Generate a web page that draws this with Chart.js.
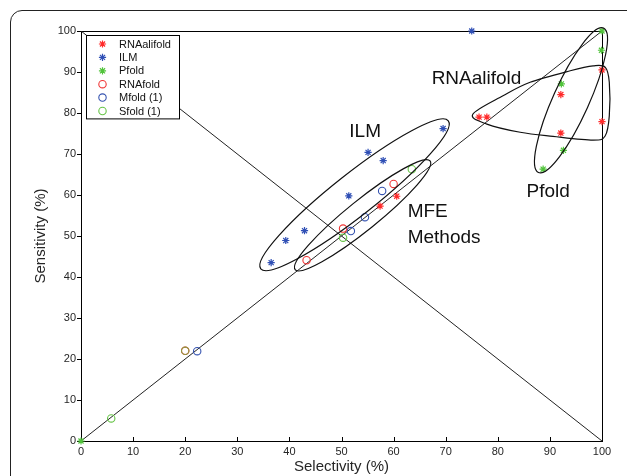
<!DOCTYPE html>
<html>
<head>
<meta charset="utf-8">
<script src="https://cdn.jsdelivr.net/npm/chart.js@4.4.0/dist/chart.umd.min.js"></script>
<style>
  html, body { margin: 0; padding: 0; background: #fff; }
  #wrap { position: relative; width: 627px; height: 476px; overflow: hidden; }
  #frame { position: absolute; left: 10px; top: 10px; width: 660px; height: 520px;
           border: 1.5px solid #222; border-radius: 12px; box-sizing: border-box; }
  #c { position: absolute; left: 0; top: 0; }
</style>
</head>
<body>
<div id="wrap">
  <div id="frame"></div>
  <canvas id="c" width="627" height="476"></canvas>
</div>
<script>
// values (selectivity %, sensitivity %)
const rnaalifoldX = [100, 92.1, 92.1, 76.4, 77.9, 100, 60.6, 57.4];
const rnaalifoldY = [90.5, 84.5, 75.1, 79.0, 79.0, 77.9, 59.7, 57.3];
const ilmX = [75, 69.5, 55.1, 58.0, 51.4, 42.9, 39.3, 36.5];
const ilmY = [100, 76.2, 70.4, 68.4, 59.8, 51.3, 48.9, 43.5];
const pfoldX = [100, 99.9, 92.2, 92.6, 88.7, 0];
const pfoldY = [100, 95.3, 87.1, 70.9, 66.3, 0];
const rnafoldX = [60.0, 50.3, 43.3, 20.0];
const rnafoldY = [62.7, 51.8, 44.1, 22.0];
const mfoldX = [57.8, 54.5, 51.8, 22.3];
const mfoldY = [61.0, 54.6, 51.2, 21.9];
const sfoldX = [63.5, 50.3, 20.0, 5.8];
const sfoldY = [66.3, 49.6, 22.0, 5.5];

// reference lines
const diagX = [0, 100];
const diagY = [0, 100];
const antiY = [100, 0];

const pts = (xs, ys) => xs.map((x, i) => ({ x: x, y: ys[i] }));

const FONT = '"Liberation Sans", Arial, Helvetica, sans-serif';
const RED = '#ff2a2a', BLUE = '#2f4fb5', GREEN = '#52c43c';
const RED_O = '#f03535', BLUE_O = '#3553b0', GREEN_O = '#66c446', OLIVE = '#8e9a42';

// group outlines (data units): ellipses by ends of the long axis + half width in px
const ellipses = [
  { p1: [34.5, 42.0], p2: [70.5, 78.1], half: 21 },   // ILM
  { p1: [41.1, 41.8], p2: [67.0, 68.3], half: 15 },   // MFE
  { p1: [87.8, 65.5], p2: [100.3, 100.7], half: 18 }  // Pfold
];
const alifoldLoopX = [75.2, 81.0, 86.2, 93.9, 98.3, 100.6, 101.4, 101.4, 100.6, 98.3, 90.6, 84.3, 77.9];
const alifoldLoopY = [79.7, 84.2, 87.5, 90.3, 91.5, 91.2, 87.5, 79.3, 74.4, 73.4, 74.3, 75.3, 77.3];

const groupLabels = [
  { text: 'ILM', x: 51.5, y: 74.1 },
  { text: 'MFE', x: 62.7, y: 54.7 },
  { text: 'Methods', x: 62.7, y: 48.3 },
  { text: 'RNAalifold', x: 67.3, y: 87.0 },
  { text: 'Pfold', x: 85.5, y: 59.6 }
];

const sameAsRnafold = (p) => rnafoldX.some((x, i) => x === p.x && rnafoldY[i] === p.y);

const star = (label, xs, ys, color) => ({
  label: label, data: pts(xs, ys), pointStyle: 'star', pointRadius: 3.6,
  borderColor: color, backgroundColor: color, borderWidth: 1.2, showLine: false, clip: false
});
const ring = (label, xs, ys, color) => ({
  label: label, data: pts(xs, ys), pointStyle: 'circle', pointRadius: 3.7,
  borderColor: color, backgroundColor: 'rgba(0,0,0,0)', borderWidth: 1.1, showLine: false, clip: false
});
const refLine = (xs, ys) => ({
  type: 'line', label: '', data: pts(xs, ys), borderColor: '#222', borderWidth: 1,
  pointRadius: 0, fill: false, hideInLegend: true, order: 5
});

const sfold = ring('Sfold (1)', sfoldX, sfoldY, GREEN_O);
sfold.legendColor = GREEN_O;
sfold.order = -1;
sfold.borderColor = (c) => (c.raw && sameAsRnafold(c.raw)) ? OLIVE : GREEN_O;

const extras = {
  id: 'extras',
  beforeDatasetsDraw(chart) {
    const { ctx, chartArea: a, scales: { x, y } } = chart;
    ctx.save();
    ctx.strokeStyle = '#000';
    ctx.lineWidth = 1;
    ctx.strokeRect(a.left + 0.5, a.top + 0.5, a.right - a.left, a.bottom - a.top);
    // tick marks: inward on x, outward on y
    ctx.beginPath();
    x.ticks.forEach(t => {
      const px = Math.round(x.getPixelForValue(t.value)) + 0.5;
      ctx.moveTo(px, a.bottom); ctx.lineTo(px, a.bottom - 4);
    });
    y.ticks.forEach(t => {
      const py = Math.round(y.getPixelForValue(t.value)) + 0.5;
      ctx.moveTo(a.left - 4, py); ctx.lineTo(a.left, py);
    });
    ctx.stroke();
    ctx.restore();
  },
  afterDatasetsDraw(chart) {
    const { ctx, scales: { x, y } } = chart;
    ctx.save();
    ctx.strokeStyle = '#111';
    ctx.lineWidth = 1.2;
    ellipses.forEach(e => {
      const x1 = x.getPixelForValue(e.p1[0]), y1 = y.getPixelForValue(e.p1[1]);
      const x2 = x.getPixelForValue(e.p2[0]), y2 = y.getPixelForValue(e.p2[1]);
      const r = Math.hypot(x2 - x1, y2 - y1) / 2;
      ctx.beginPath();
      ctx.ellipse((x1 + x2) / 2, (y1 + y2) / 2, r, e.half, Math.atan2(y2 - y1, x2 - x1), 0, Math.PI * 2);
      ctx.stroke();
    });
    // closed Catmull-Rom loop for the RNAalifold group
    const P = alifoldLoopX.map((v, i) => [x.getPixelForValue(v), y.getPixelForValue(alifoldLoopY[i])]);
    const n = P.length;
    ctx.beginPath();
    ctx.moveTo(P[0][0], P[0][1]);
    for (let i = 0; i < n; i++) {
      const p0 = P[(i - 1 + n) % n], p1 = P[i], p2 = P[(i + 1) % n], p3 = P[(i + 2) % n];
      ctx.bezierCurveTo(
        p1[0] + (p2[0] - p0[0]) / 6, p1[1] + (p2[1] - p0[1]) / 6,
        p2[0] - (p3[0] - p1[0]) / 6, p2[1] - (p3[1] - p1[1]) / 6,
        p2[0], p2[1]);
    }
    ctx.closePath();
    ctx.stroke();

    ctx.fillStyle = '#111';
    ctx.font = '19px ' + FONT;
    ctx.textBaseline = 'alphabetic';
    ctx.textAlign = 'left';
    groupLabels.forEach(g => ctx.fillText(g.text, x.getPixelForValue(g.x), y.getPixelForValue(g.y)));
    ctx.restore();
  },
  afterDraw(chart) {
    const { ctx, chartArea: a } = chart;
    const items = chart.data.datasets.filter(d => !d.hideInLegend);
    const left = a.left + 5.5, top = a.top + 4.5, w = 93, rowH = 13.4;
    const h = items.length * rowH + 3;
    ctx.save();
    ctx.fillStyle = '#fff';
    ctx.fillRect(left, top, w, h);
    ctx.strokeStyle = '#000';
    ctx.lineWidth = 1;
    ctx.strokeRect(left, top, w, h);
    ctx.font = '11px ' + FONT;
    ctx.textBaseline = 'middle';
    items.forEach((d, i) => {
      const cy = top + 8.5 + i * rowH;
      const col = d.legendColor || d.borderColor;
      ctx.lineWidth = d.borderWidth;
      ctx.strokeStyle = col;
      if (d.pointStyle === 'star') {
        ctx.fillStyle = col;
        Chart.helpers.drawPoint(ctx, { pointStyle: 'star', radius: d.pointRadius, rotation: 0, borderWidth: d.borderWidth }, left + 16, cy);
      } else {
        ctx.beginPath();
        ctx.arc(left + 16, cy, d.pointRadius, 0, Math.PI * 2);
        ctx.stroke();
      }
      ctx.fillStyle = '#111';
      ctx.fillText(d.label, left + 32.5, cy + 0.5);
    });
    ctx.restore();
  }
};

new Chart(document.getElementById('c'), {
  type: 'scatter',
  data: {
    datasets: [
      refLine(diagX, diagY),
      refLine(diagX, antiY),
      star('RNAalifold', rnaalifoldX, rnaalifoldY, RED),
      star('ILM', ilmX, ilmY, BLUE),
      star('Pfold', pfoldX, pfoldY, GREEN),
      ring('RNAfold', rnafoldX, rnafoldY, RED_O),
      ring('Mfold (1)', mfoldX, mfoldY, BLUE_O),
      sfold
    ]
  },
  options: {
    responsive: false,
    animation: false,
    events: [],
    layout: { padding: { left: 0, top: 31, right: 25, bottom: 0 } },
    plugins: { legend: { display: false }, tooltip: { enabled: false } },
    scales: {
      x: {
        type: 'linear', min: 0, max: 100,
        ticks: { stepSize: 10, padding: 4, color: '#262626', font: { family: FONT, size: 11 } },
        grid: { display: false, drawTicks: false },
        border: { display: false },
        title: { display: true, text: 'Selectivity (%)', color: '#262626',
                 font: { family: FONT, size: 15 }, padding: { top: 0, bottom: 0 } },
        afterFit: (s) => { s.height = 35; }
      },
      y: {
        type: 'linear', min: 0, max: 100,
        ticks: { stepSize: 10, padding: 5, color: '#262626', font: { family: FONT, size: 11 } },
        grid: { display: false, drawTicks: false },
        border: { display: false },
        title: { display: true, text: 'Sensitivity (%)', color: '#262626',
                 font: { family: FONT, size: 15 }, padding: { top: 32, bottom: 0 } },
        afterFit: (s) => { s.width = 81; }
      }
    }
  },
  plugins: [extras]
});
</script>
</body>
</html>
